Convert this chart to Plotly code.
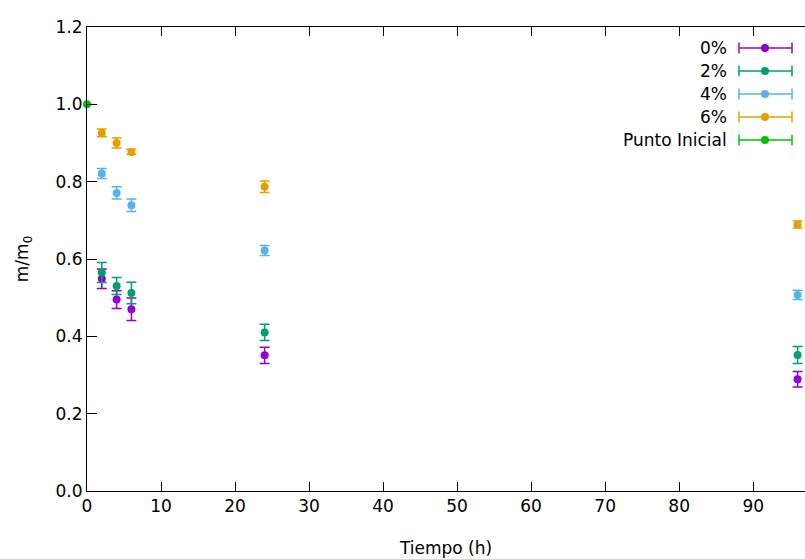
import plotly.graph_objects as go

# ---- data ----
tiempo = [2, 4, 6, 24, 96]
m_0 = [0.549, 0.495, 0.470, 0.351, 0.289]
e_0 = [0.025, 0.023, 0.029, 0.021, 0.020]
m_2 = [0.565, 0.530, 0.512, 0.410, 0.352]
e_2 = [0.026, 0.022, 0.028, 0.021, 0.022]
m_4 = [0.821, 0.771, 0.739, 0.622, 0.507]
e_4 = [0.013, 0.016, 0.016, 0.013, 0.012]
m_6 = [0.926, 0.900, 0.877, 0.787, 0.689]
e_6 = [0.010, 0.013, 0.007, 0.015, 0.009]
t_ini = [0]
m_ini = [1.0]
e_ini = [0.0]

series_names = ["0%", "2%", "4%", "6%", "Punto Inicial"]
series_colors = ["#9400d3", "#009e73", "#56b4e9", "#e69f00", "#00c000"]
series_x = [tiempo, tiempo, tiempo, tiempo, t_ini]
series_y = [m_0, m_2, m_4, m_6, m_ini]
series_e = [e_0, e_2, e_4, e_6, e_ini]

x_ticks = [0, 10, 20, 30, 40, 50, 60, 70, 80, 90]
y_ticks = [0.0, 0.2, 0.4, 0.6, 0.8, 1.0, 1.2]

W, H = 805, 559
ML, MR, MT, MB = 87, 0, 27, 68
PW, PH = W - ML - MR, H - MT - MB

fig = go.Figure()
for name, col, xs, ys, es in zip(series_names, series_colors, series_x, series_y, series_e):
    fig.add_trace(go.Scatter(
        x=xs, y=ys, mode="markers", name=name, showlegend=False,
        marker=dict(color=col, size=8),
        error_y=dict(type="data", array=es, visible=True, color=col, thickness=1.5, width=5),
        cliponaxis=False,
    ))

# custom legend (text left of sample)
def px2paper(xp, yp):
    return (xp - ML) / PW, 1 - (yp - MT) / PH

shapes = []
annotations = []
row_y = [48, 71, 94, 117, 140]
for name, col, yp in zip(series_names, series_colors, row_y):
    x1, y = px2paper(739, yp)
    x2, _ = px2paper(792, yp)
    xm, _ = px2paper(765, yp)
    _, ytop = px2paper(0, yp - 5.5)
    _, ybot = px2paper(0, yp + 5.5)
    shapes.append(dict(type="line", xref="paper", yref="paper", x0=x1, x1=x2, y0=y, y1=y,
                       line=dict(color=col, width=1.5)))
    shapes.append(dict(type="line", xref="paper", yref="paper", x0=x1, x1=x1, y0=ybot, y1=ytop,
                       line=dict(color=col, width=1.5)))
    shapes.append(dict(type="line", xref="paper", yref="paper", x0=x2, x1=x2, y0=ybot, y1=ytop,
                       line=dict(color=col, width=1.5)))
    shapes.append(dict(type="circle", xref="paper", yref="paper", xsizemode="pixel", ysizemode="pixel",
                       xanchor=xm, yanchor=y, x0=-4, x1=4, y0=-4, y1=4,
                       fillcolor=col, line=dict(color=col, width=0)))
    xt, _ = px2paper(729, yp)
    annotations.append(dict(text=name, xref="paper", yref="paper", x=xt, y=y,
                            xanchor="right", yanchor="middle", showarrow=False,
                            font=dict(size=17, color="black")))

fig.update_layout(
    width=W, height=H,
    margin=dict(l=ML, r=MR, t=MT, b=MB),
    paper_bgcolor="white", plot_bgcolor="white",
    font=dict(family="DejaVu Sans", size=17, color="black"),
    shapes=shapes, annotations=annotations,
    showlegend=False,
)
fig.update_xaxes(
    range=[0, 97], tickvals=x_ticks, ticktext=[str(v) for v in x_ticks],
    showgrid=False, zeroline=False, showline=True, linecolor="black", linewidth=1,
    mirror="ticks", ticks="inside", ticklen=9, tickcolor="black", tickwidth=1,
    tickfont=dict(size=17),
    title=dict(text="Tiempo (h)", font=dict(size=17), standoff=26),
)
fig.update_yaxes(
    range=[0, 1.2], tickvals=y_ticks, ticktext=[f"{v:.1f}" for v in y_ticks],
    showgrid=False, zeroline=False, showline=True, linecolor="black", linewidth=1,
    mirror=False, ticks="inside", ticklen=10, tickcolor="black", tickwidth=1,
    tickfont=dict(size=17),
    title=dict(text="m/m<sub>0</sub>", font=dict(size=17), standoff=22),
)

fig.write_html("out.html", config={"displayModeBar": False},
               post_script="document.body.style.margin='0';document.body.style.overflow='hidden';")
